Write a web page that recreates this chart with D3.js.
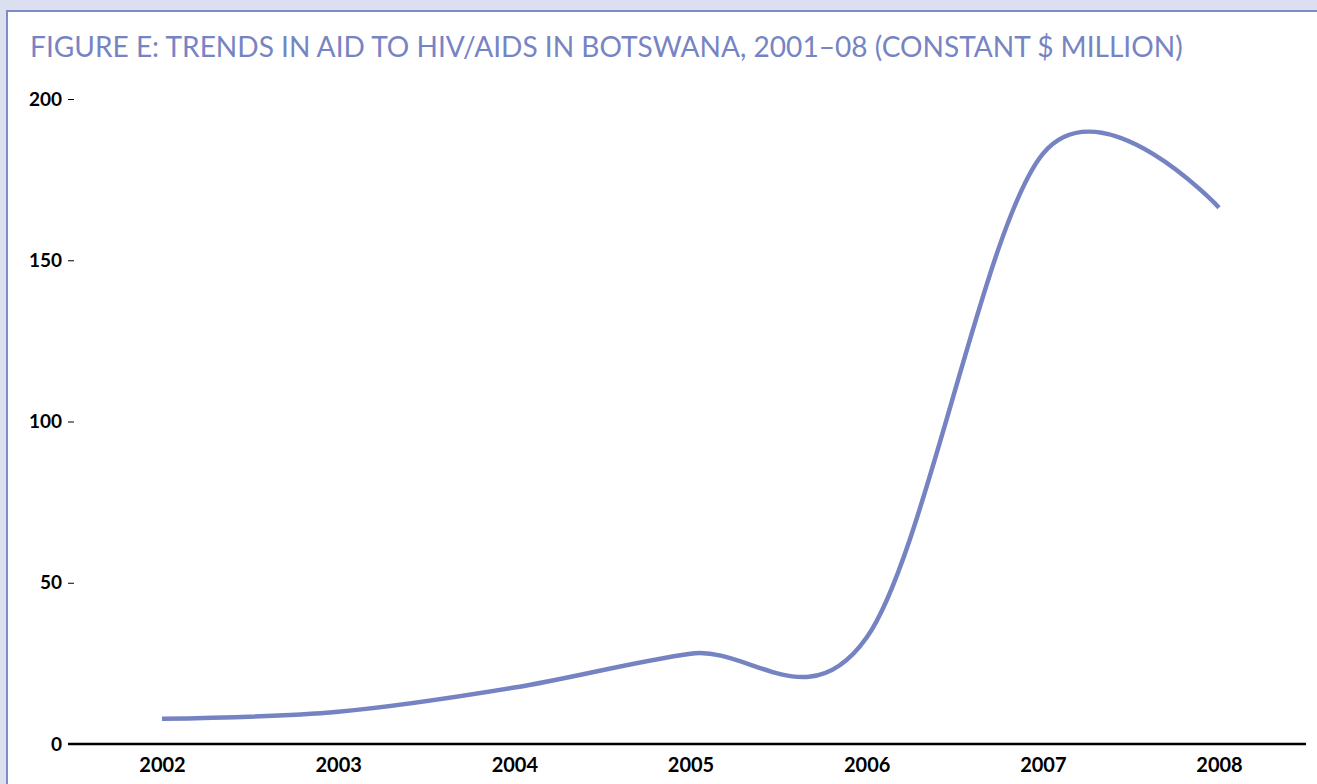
<!DOCTYPE html>
<html>
<head>
<meta charset="utf-8">
<script src="https://cdn.jsdelivr.net/npm/d3@7"></script>
<style>
  html, body { margin: 0; padding: 0; background: #dcdff0; }
  svg { display: block; }
  .title { font-family: "Lato", "Open Sans", sans-serif; font-weight: 400; fill: #7784c3; }
  .axis text { font-family: "Lato", "Noto Sans", sans-serif; font-weight: 700; fill: #000; }
</style>
</head>
<body>
<div id="chart"></div>
<script>
// data
const years = [2002, 2003, 2004, 2005, 2006, 2007, 2008];
const aid = [7.8, 10.0, 17.5, 28.0, 33.0, 183.0, 166.3];
const yTicks = [0, 50, 100, 150, 200];
const titleText = "FIGURE E: TRENDS IN AID TO HIV/AIDS IN BOTSWANA, 2001–08 (CONSTANT $ MILLION)";

const W = 1317, H = 784;
const lineColor = "#7683c2";

const svg = d3.select("#chart").append("svg")
  .attr("width", W)
  .attr("height", H);

// outer panel
svg.append("rect")
  .attr("x", 7).attr("y", 11)
  .attr("width", W + 10).attr("height", H + 10)
  .attr("fill", "#fff")
  .attr("stroke", "#7f8bc7")
  .attr("stroke-width", 2);

// title, sized to fill its span
const title = svg.append("text")
  .attr("class", "title")
  .attr("x", 30)
  .attr("y", 57)
  .style("font-size", "28px")
  .text(titleText);
const tw = title.node().getComputedTextLength();
title.style("font-size", `${28 * 1153 / tw}px`);

// scales
const x = d3.scaleLinear().domain([2002, 2008]).range([162, 1219]);
const y = d3.scaleLinear().domain([0, 200]).range([744, 99]);

// y axis: labels with short dash
const yAxis = d3.axisLeft(y)
  .tickValues(yTicks)
  .tickSize(6)
  .tickPadding(6);

const gy = svg.append("g")
  .attr("class", "axis y-axis")
  .attr("transform", "translate(74,0)")
  .call(yAxis);
gy.select(".domain").remove();
gy.selectAll(".tick line").attr("stroke", "#000").attr("stroke-width", 1);
gy.selectAll(".tick text").style("font-size", "19px");

// x axis
const xAxis = d3.axisBottom(x)
  .tickValues(years)
  .tickFormat(d3.format("d"))
  .tickSize(0)
  .tickPadding(14);

const gx = svg.append("g")
  .attr("class", "axis x-axis")
  .attr("transform", "translate(0,744)")
  .call(xAxis);
gx.select(".domain").remove();
gx.selectAll(".tick text").style("font-size", "20px");

svg.append("line")
  .attr("x1", 68).attr("x2", 1306)
  .attr("y1", y(0)).attr("y2", y(0))
  .attr("stroke", "#000")
  .attr("stroke-width", 2.5);

// smoothed line (uniform Catmull-Rom)
const series = years.map((yr, i) => ({year: yr, value: aid[i]}));
const line = d3.line()
  .x(d => x(d.year))
  .y(d => y(d.value))
  .curve(d3.curveCardinal.tension(0));

svg.append("path")
  .datum(series)
  .attr("fill", "none")
  .attr("stroke", lineColor)
  .attr("stroke-width", 4.5)
  .attr("d", line);
</script>
</body>
</html>
